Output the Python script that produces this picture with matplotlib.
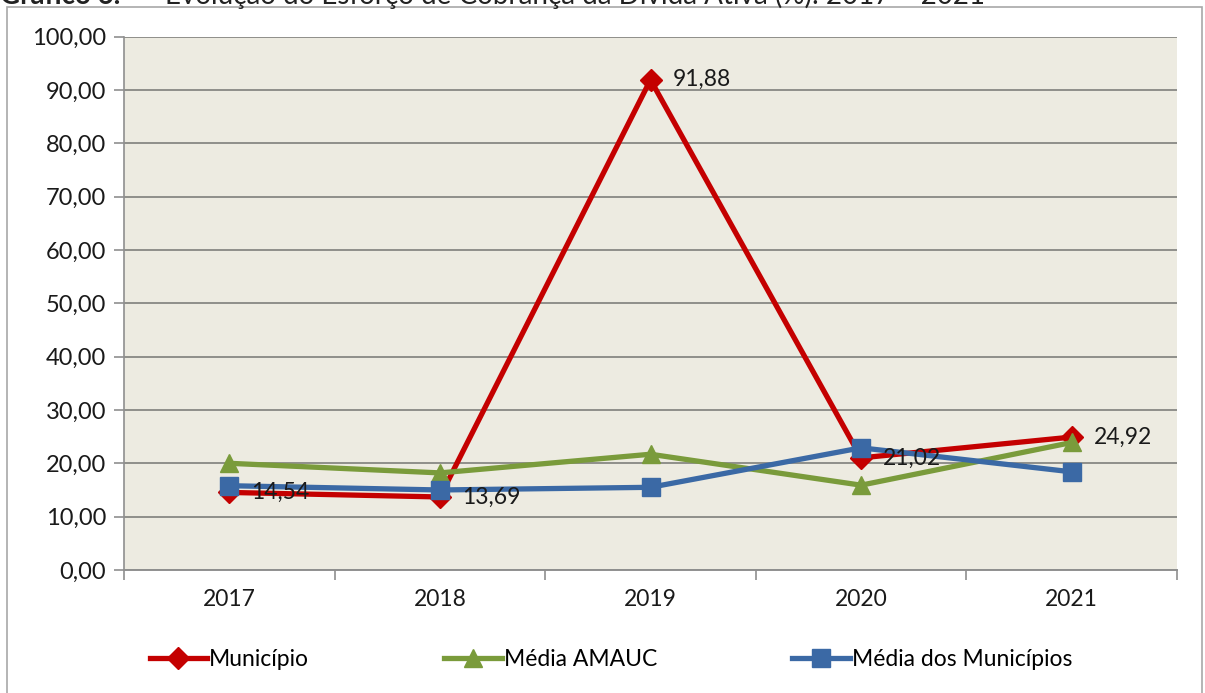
import matplotlib
matplotlib.use("Agg")
import matplotlib.pyplot as plt
from matplotlib.lines import Line2D
from matplotlib.patches import Rectangle

plt.rcParams['font.family'] = ['Lato', 'DejaVu Sans']

# Data
years = ["2017", "2018", "2019", "2020", "2021"]
municipio = [14.54, 13.69, 91.88, 21.02, 24.92]
media_amauc = [20.0, 18.2, 21.7, 15.9, 23.9]
media_municipios = [15.8, 15.0, 15.5, 22.9, 18.4]
yticks = [0, 10, 20, 30, 40, 50, 60, 70, 80, 90, 100]

series_names = ["Município", "Média AMAUC", "Média dos Municípios"]
colors = ["#C40000", "#7A9B3B", "#3B69A5"]
markers = ["D", "^", "s"]
msizes = [11, 13, 13]
LW = 3.8
FS = 16.5

fig = plt.figure(figsize=(12.05, 6.93), dpi=100)
W, H = 1205, 693

# outer chart frame
fig.patches.append(Rectangle((7 / W, -0.01), (1202 - 7) / W, (H - 7) / H + 0.01,
                             transform=fig.transFigure, fill=False,
                             edgecolor="#a8a8a8", linewidth=1.2))

# caption running along the top edge
fig.text(0.0, (H - 4) / H, "Gráfico 6.", fontsize=20, fontweight="bold",
         ha="left", va="baseline", color="#222222")
fig.text(128 / W, (H - 4) / H, "–", fontsize=20,
         ha="left", va="baseline", color="#222222")
fig.text(165 / W, (H - 4) / H, "Evolução do Esforço de Cobrança da Dívida Ativa (%): 2017 – 2021",
         fontsize=20, ha="left", va="baseline", color="#222222")

left, right = 124 / W, 1177 / W
bottom, top = (H - 570) / H, (H - 36.5) / H
ax = fig.add_axes([left, bottom, right - left, top - bottom])
ax.set_facecolor("#EDEBE1")

x = list(range(len(years)))
for vals, name, c, m, ms in zip([municipio, media_amauc, media_municipios],
                                series_names, colors, markers, msizes):
    ax.plot(x, vals, color=c, linewidth=LW, marker=m, markersize=ms,
            markeredgecolor=c, markerfacecolor=c, label=name, zorder=3)

# value labels for the municipality series
for xi, v in zip(x, municipio):
    ax.annotate(f"{v:.2f}".replace(".", ","), (xi, v), xytext=(16, 0),
                textcoords="offset points", ha="left", va="center",
                fontsize=FS, color="#1a1a1a", zorder=4)

ax.set_xlim(-0.5, len(years) - 0.5)
ax.set_ylim(0, 100)
ax.set_yticks(yticks)
ax.set_yticklabels([f"{t:.2f}".replace(".", ",") for t in yticks], fontsize=FS + 0.5, color="#1a1a1a")
ax.yaxis.grid(True, color="#8f8f8a", linewidth=1.4)
ax.set_axisbelow(True)

# category labels centred, tick marks between categories
ax.set_xticks(x)
ax.set_xticklabels(years, fontsize=FS, color="#1a1a1a")
ax.tick_params(axis="x", length=0, pad=14)
ax.set_xticks([i - 0.5 for i in range(len(years) + 1)], minor=True)
ax.tick_params(axis="x", which="minor", length=7, width=1.2, color="#8f8f8f", direction="out")
ax.tick_params(axis="y", length=7, width=1.2, color="#8f8f8f", pad=6)

for s in ["top", "right"]:
    ax.spines[s].set_visible(False)
ax.spines["left"].set_color("#8f8f8f")
ax.spines["left"].set_linewidth(1.2)
ax.spines["bottom"].set_color("#8f8f8f")
ax.spines["bottom"].set_linewidth(1.4)

handles = [Line2D([0], [0], color=c, linewidth=LW, marker=m, markersize=ms,
                  markeredgecolor=c, markerfacecolor=c)
           for c, m, ms in zip(colors, markers, msizes)]
fig.legend(handles, series_names, loc="center", bbox_to_anchor=(611 / W, (H - 660) / H),
           ncol=3, frameon=False, fontsize=FS, handlelength=2.5, handletextpad=0.1,
           columnspacing=5.9)

fig.savefig("out.png", dpi=100)
